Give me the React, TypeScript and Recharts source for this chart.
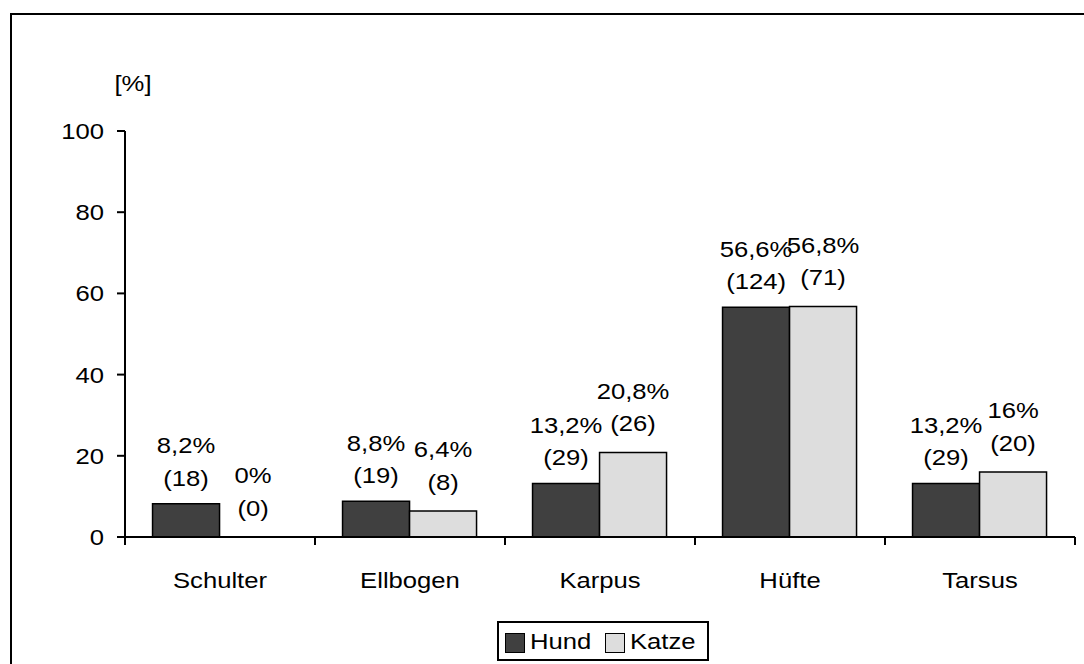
import React from 'react';
import { BarChart, Bar, XAxis, YAxis, Legend, LabelList } from 'recharts';

const categories = ['Schulter', 'Ellbogen', 'Karpus', 'Hüfte', 'Tarsus'];
const hundPercent = [8.2, 8.8, 13.2, 56.6, 13.2];
const katzePercent = [0, 6.4, 20.8, 56.8, 16];
const hundCount = [18, 19, 29, 124, 29];
const katzeCount = [0, 8, 26, 71, 20];
const yTicks = [0, 20, 40, 60, 80, 100];
const seriesNames = ['Hund', 'Katze'];
const yUnitLabel = '[%]';

const data = categories.map((c, i) => ({ name: c, hund: hundPercent[i], katze: katzePercent[i] }));

const FONT = '"Liberation Sans", Arial, Helvetica, sans-serif';
const FS = 22.5;
const SX = 1.14;
const HUND_FILL = '#404040';
const KATZE_FILL = '#dddddd';

const T = ({ x, y, anchor = 'middle', children }: any) => (
  <text
    transform={`translate(${x},${y}) scale(${SX},1)`}
    textAnchor={anchor}
    dominantBaseline="central"
    fontFamily={FONT}
    fontSize={FS}
    fill="#000"
  >
    {children}
  </text>
);

const fmtPct = (v: number) => `${String(v).replace('.', ',')}%`;

const YTick = (props: any) => {
  const { x, y, payload } = props;
  return <T x={x} y={y} anchor="end">{payload.value}</T>;
};

const XTick = (props: any) => {
  const { x, y, payload, width } = props;
  const half = payload && payload.offset > 0 ? payload.offset : width / categories.length / 2;
  const i = payload.index;
  return (
    <g>
      <line x1={x - half} x2={x - half} y1={y} y2={y + 8} stroke="#000" strokeWidth={2} />
      {i === categories.length - 1 && (
        <line x1={x + half} x2={x + half} y1={y} y2={y + 8} stroke="#000" strokeWidth={2} />
      )}
      <T x={x} y={y + 43}>{payload.value}</T>
    </g>
  );
};

const makeLabel = (counts: number[], gap: number) => (props: any) => {
  const { x, y, width, value, index } = props;
  const cx = Number(x) + Number(width) / 2;
  const bottom = Number(y) - gap;
  return (
    <g>
      <T x={cx} y={bottom - 32.5}>{fmtPct(Number(value))}</T>
      <T x={cx} y={bottom}>({counts[index]})</T>
    </g>
  );
};

const LegendContent = (props: any) => {
  const payload = props.payload || [];
  const lefts = [6, 106];
  return (
    <div
      style={{
        position: 'relative',
        width: 212,
        height: 40,
        boxSizing: 'border-box',
        border: '2px solid #000',
        background: '#fff',
      }}
    >
      {payload.map((p: any, i: number) => (
        <React.Fragment key={i}>
          <div
            style={{
              position: 'absolute',
              left: lefts[i],
              top: 10,
              width: 20,
              height: 20,
              boxSizing: 'border-box',
              border: '1.5px solid #000',
              background: p.color,
            }}
          />
          <span
            style={{
              position: 'absolute',
              left: lefts[i] + 25,
              top: 0,
              lineHeight: '37px',
              fontFamily: FONT,
              fontSize: FS,
              color: '#000',
              whiteSpace: 'nowrap',
              transform: `scaleX(${SX})`,
              transformOrigin: 'left center',
            }}
          >
            {p.value}
          </span>
        </React.Fragment>
      ))}
    </div>
  );
};

const YLabel = (props: any) => {
  const vb = props.viewBox || { x: 0, y: 131, width: 125 };
  return <T x={vb.x + vb.width + 8} y={vb.y - 48}>{yUnitLabel}</T>;
};

export default function App() {
  return (
    <div
      style={{
        position: 'absolute',
        left: 0,
        top: 0,
        width: 1084,
        height: 664,
        overflow: 'hidden',
        background: '#fff',
      }}
    >
      <div
        style={{
          position: 'absolute',
          left: 10,
          top: 13,
          width: 1200,
          height: 800,
          border: '2px solid #000',
        }}
      />
      <div style={{ position: 'absolute', left: 0, top: 0 }}>
        <BarChart
          width={1084}
          height={664}
          data={data}
          margin={{ top: 131, right: 9, left: 0, bottom: 67 }}
          barGap={0}
          barCategoryGap="14.5%"
        >
          <XAxis
            dataKey="name"
            interval={0}
            height={60}
            tickLine={false}
            tickSize={0}
            tickMargin={0}
            axisLine={{ stroke: '#000', strokeWidth: 2 }}
            tick={<XTick />}
          />
          <YAxis
            width={125}
            domain={[0, 100]}
            ticks={yTicks}
            interval={0}
            tickSize={8}
            tickMargin={13}
            axisLine={{ stroke: '#000', strokeWidth: 2 }}
            tickLine={{ stroke: '#000', strokeWidth: 2 }}
            tick={<YTick />}
            label={<YLabel />}
          />
          <Legend
            verticalAlign="middle"
            layout="horizontal"
            wrapperStyle={{ position: 'absolute', left: 497, top: 621, width: 212, height: 40 }}
            content={<LegendContent />}
          />
          <Bar
            dataKey="hund"
            name={seriesNames[0]}
            fill={HUND_FILL}
            stroke="#000"
            strokeWidth={1.5}
            minPointSize={0.01}
            isAnimationActive={false}
          >
            <LabelList dataKey="hund" content={makeLabel(hundCount, 26)} />
          </Bar>
          <Bar
            dataKey="katze"
            name={seriesNames[1]}
            fill={KATZE_FILL}
            stroke="#000"
            strokeWidth={1.5}
            minPointSize={0.01}
            isAnimationActive={false}
          >
            <LabelList dataKey="katze" content={makeLabel(katzeCount, 29)} />
          </Bar>
        </BarChart>
      </div>
    </div>
  );
}
